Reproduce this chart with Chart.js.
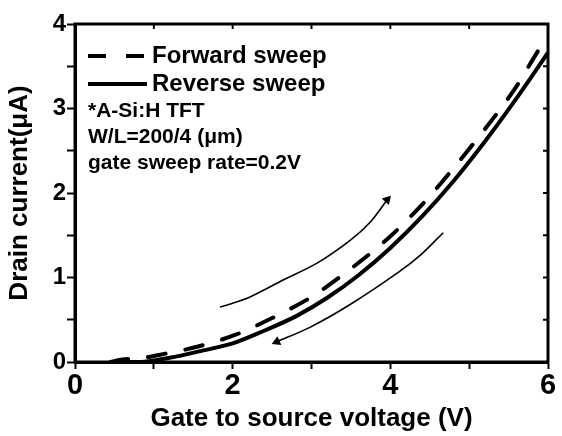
<!DOCTYPE html>
<html>
<head>
<meta charset="utf-8">
<script src="https://cdn.jsdelivr.net/npm/chart.js"></script>
<style>
  body { margin: 0; background: #fff; }
  #wrap { width: 562px; height: 436px; }
</style>
</head>
<body>
<div id="wrap"><canvas id="tft-chart"></canvas></div>
<script>
  // values (V, uA)
  const forwardX = [0.45, 0.6, 0.8, 1.1, 1.55, 2.03, 2.5, 3.0, 3.48, 3.98, 4.44, 4.85, 5.22, 5.57, 5.88, 5.96];
  const forwardY = [0.0, 0.03, 0.04, 0.09, 0.18, 0.32, 0.52, 0.77, 1.09, 1.47, 1.9, 2.35, 2.78, 3.22, 3.69, 3.79];
  const reverseX = [0.5, 0.85, 1.2, 1.55, 2.0, 2.4, 2.8, 3.2, 3.6, 4.0, 4.4, 4.8, 5.2, 5.6, 6.0];
  const reverseY = [0.0, 0.0, 0.05, 0.12, 0.22, 0.37, 0.54, 0.76, 1.03, 1.35, 1.72, 2.14, 2.61, 3.12, 3.66];
  const arrowUpX = [1.84, 1.95, 2.22, 2.64, 3.07, 3.49, 3.75, 3.96];
  const arrowUpY = [0.65, 0.68, 0.77, 0.97, 1.17, 1.44, 1.66, 1.92];
  const arrowDownX = [2.56, 2.98, 3.49, 4.1, 4.4, 4.67];
  const arrowDownY = [0.24, 0.41, 0.68, 1.06, 1.28, 1.53];
  const xTicks = [0, 2, 4, 6];
  const yTicks = [0, 1, 2, 3, 4];
  const notes = ["*A-Si:H TFT", "W/L=200/4 (\u03bcm)", "gate sweep rate=0.2V"];

  const pts = (xs, ys) => xs.map((x, i) => ({ x: x, y: ys[i] }));
  const FONT = "'Liberation Sans', Arial, sans-serif";

  // legend + notes inside the plot, and the closed frame
  const extras = {
    id: "extras",
    afterDraw(chart) {
      const ctx = chart.ctx;
      const a = chart.chartArea;
      ctx.save();
      ctx.strokeStyle = "#000";
      ctx.lineWidth = 3;
      ctx.strokeRect(a.left, a.top, a.right - a.left, a.bottom - a.top);

      // small inward ticks on top / right
      const xs = chart.scales.x, ys = chart.scales.y;
      ctx.lineWidth = 2;
      for (let v = 0; v <= 6; v += 1) {
        const px = xs.getPixelForValue(v);
        ctx.beginPath(); ctx.moveTo(px, a.top); ctx.lineTo(px, a.top + 5); ctx.stroke();
      }
      for (let v = 0; v <= 4; v += 0.5) {
        const py = ys.getPixelForValue(v);
        ctx.beginPath(); ctx.moveTo(a.right, py); ctx.lineTo(a.right - 5, py); ctx.stroke();
      }

      const ds = chart.data.datasets;
      const rows = [ds[0], ds[1]];
      let y = a.top + 32;
      ctx.font = "bold 24px " + FONT;
      ctx.textBaseline = "middle";
      ctx.fillStyle = "#000";
      rows.forEach(d => {
        ctx.beginPath();
        ctx.lineWidth = d.borderWidth;
        ctx.setLineDash(d.borderDash || []);
        ctx.moveTo(a.left + 13, y);
        ctx.lineTo(a.left + 72, y);
        ctx.stroke();
        ctx.setLineDash([]);
        ctx.fillText(d.label, a.left + 77, y);
        y += 28;
      });
      ctx.font = "bold 21px " + FONT;
      y = a.top + 87;
      notes.forEach(t => {
        ctx.fillText(t, a.left + 13, y);
        y += 26;
      });
      ctx.restore();
    }
  };

  new Chart(document.getElementById("tft-chart"), {
    type: "line",
    data: {
      datasets: [
        {
          label: "Forward sweep",
          data: pts(forwardX, forwardY),
          borderColor: "#000",
          borderWidth: 4,
          borderDash: [18, 20],
          borderCapStyle: "round",
          pointRadius: 0,
          tension: 0.3,
        },
        {
          label: "Reverse sweep",
          data: pts(reverseX, reverseY),
          borderColor: "#000",
          borderWidth: 4,
          pointRadius: 0,
          tension: 0.3,
        },
        {
          label: "up",
          data: pts(arrowUpX, arrowUpY),
          borderColor: "#000",
          backgroundColor: "#000",
          borderWidth: 1.6,
          pointStyle: "triangle",
          pointRadius: arrowUpX.map((v, i) => (i === arrowUpX.length - 1 ? 4 : 0)),
          rotation: 43,
          tension: 0.3,
        },
        {
          label: "down",
          data: pts(arrowDownX, arrowDownY),
          borderColor: "#000",
          backgroundColor: "#000",
          borderWidth: 1.6,
          pointStyle: "triangle",
          pointRadius: arrowDownX.map((v, i) => (i === 0 ? 4 : 0)),
          rotation: 246,
          tension: 0.3,
        },
      ],
    },
    options: {
      responsive: true,
      maintainAspectRatio: false,
      animation: false,
      layout: { padding: { top: 24, right: 14, left: 4, bottom: 0 } },
      plugins: { legend: { display: false }, tooltip: { enabled: false } },
      scales: {
        x: {
          type: "linear",
          min: 0,
          max: 6,
          border: { color: "#000", width: 3 },
          grid: { drawOnChartArea: false, color: "#000", tickLength: 7, tickWidth: 2 },
          ticks: {
            stepSize: 1,
            padding: 0,
            color: "#000",
            font: { family: FONT, size: 29, weight: "bold" },
            callback: v => (xTicks.includes(v) ? v : ""),
          },
          title: {
            display: true,
            text: "Gate to source voltage (V)",
            color: "#000",
            padding: { top: -6, bottom: 2 },
            font: { family: FONT, size: 26, weight: "bold" },
          },
          afterFit: s => { s.height = 74; },
        },
        y: {
          min: 0,
          max: 4,
          border: { color: "#000", width: 3 },
          grid: { drawOnChartArea: false, color: "#000", tickLength: 8, tickWidth: 2 },
          ticks: {
            stepSize: 0.5,
            padding: 1,
            color: "#000",
            font: { family: FONT, size: 24, weight: "bold" },
            callback: v => (yTicks.includes(v) ? v : ""),
          },
          title: {
            display: true,
            text: "Drain current(\u03bcA)",
            color: "#000",
            padding: { top: 0, bottom: 6 },
            font: { family: FONT, size: 26, weight: "bold" },
          },
          afterFit: s => { s.width = 71; },
        },
      },
    },
    plugins: [extras],
  });
</script>
</body>
</html>
